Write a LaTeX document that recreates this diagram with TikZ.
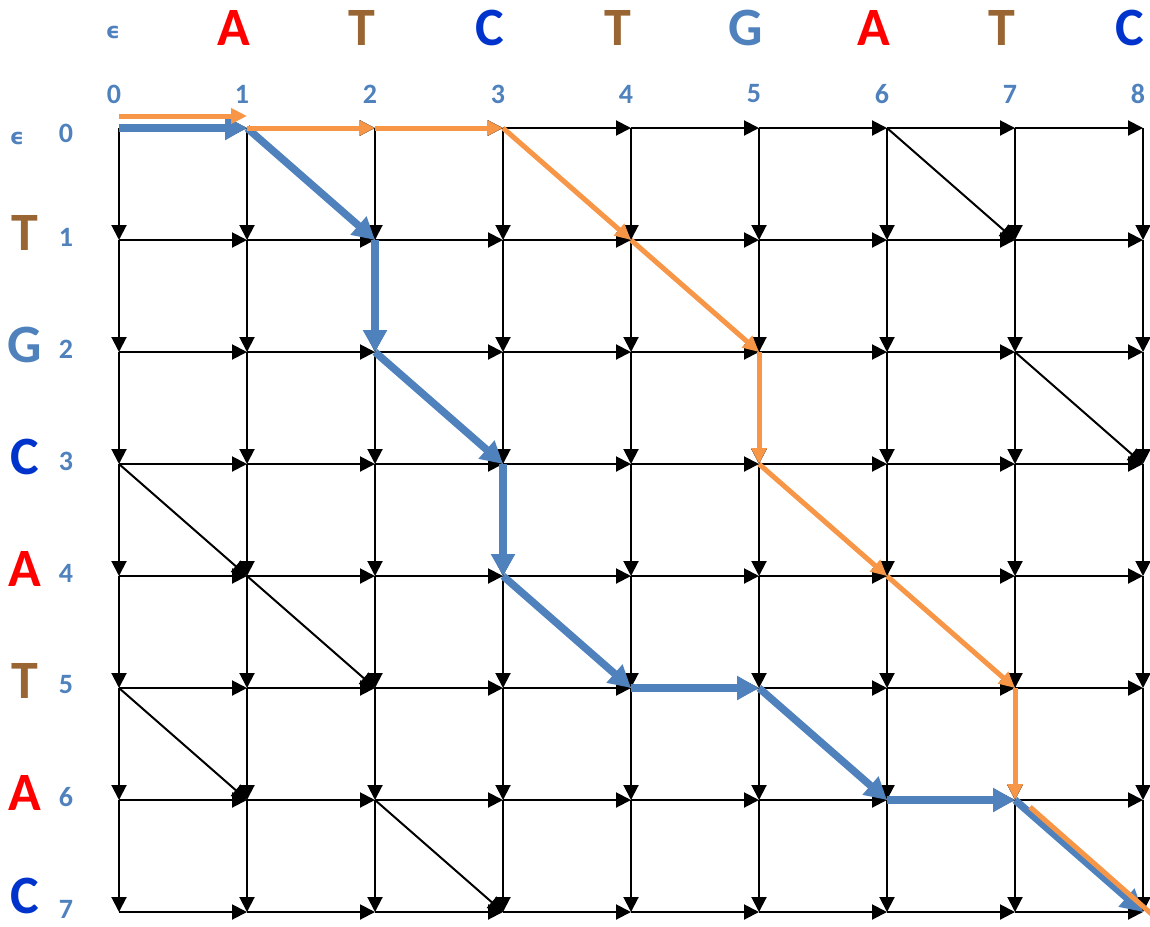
\documentclass[tikz,border=0pt]{standalone}
\usepackage{fontspec}
\setmainfont{Carlito}
\newfontfamily\epsfont{DejaVu Sans}
\usetikzlibrary{arrows.meta,calc}
\definecolor{cA}{RGB}{255,0,0}
\definecolor{cT}{RGB}{153,102,51}
\definecolor{cC}{RGB}{0,51,204}
\definecolor{cG}{RGB}{79,129,189}
\definecolor{pathblue}{RGB}{79,129,189}
\definecolor{pathorange}{RGB}{247,150,70}
\begin{document}
\begin{tikzpicture}[x=1pt,y=-1pt,
  edge/.style={line width=2pt,-{Triangle[length=15pt,width=15pt]}},
  bluepath/.style={line width=7.5pt,pathblue,-{Triangle[length=22pt,width=23pt]}},
  orangepath/.style={line width=5pt,pathorange,-{Triangle[length=16pt,width=15pt]}},
  base/.style={inner sep=0pt,font=\bfseries\fontsize{54}{54}\selectfont},
  idx/.style={inner sep=0pt,text=cG,font=\bfseries\fontsize{28}{28}\selectfont},
  eps/.style={inner sep=0pt,text=cG,font=\epsfont\bfseries\fontsize{22}{22}\selectfont}
]
\useasboundingbox (0,0) rectangle (1150,926);
% grid points
\foreach \i in {0,...,8}{\foreach \j in {0,...,7}{
  \coordinate (p\i-\j) at ({119+128*\i},{128+112*\j});}}
% horizontal edges
\foreach \i in {0,...,7}{\pgfmathtruncatemacro\nxt{\i+1}
  \foreach \j in {0,...,7}{\draw[edge] (p\i-\j) -- (p\nxt-\j);}}
% vertical edges
\foreach \i in {0,...,8}{\foreach \j in {0,...,6}{\pgfmathtruncatemacro\nyt{\j+1}
  \draw[edge] (p\i-\j) -- (p\i-\nyt);}}
% diagonal edges
\foreach \a/\b/\c/\d in {6/0/7/1,7/2/8/3,0/3/1/4,1/4/2/5,0/5/1/6,2/6/3/7}
  \draw[edge] (p\a-\b) -- (p\c-\d);
% blue path
\foreach \a/\b/\c/\d in {0/0/1/0,1/0/2/1,2/1/2/2,2/2/3/3,3/3/3/4,3/4/4/5,4/5/5/5,5/5/6/6,6/6/7/6,7/6/8/7}
  \draw[bluepath] (p\a-\b) -- (p\c-\d);
% orange path
\coordinate (ostart) at ($(p0-0)+(0,-12)$);
\coordinate (oend) at ($(p1-0)+(0,-12)$);
\draw[orangepath] (ostart) -- (oend);
\foreach \a/\b/\c/\d in {1/0/2/0,2/0/3/0,3/0/4/1,4/1/5/2,5/2/5/3,5/3/6/4,6/4/7/5,7/5/7/6}
  \draw[orangepath] (p\a-\b) -- (p\c-\d);
\coordinate (olast1) at ($(p7-6)+(15,7)$);
\coordinate (olast2) at ($(p8-7)+(12,5)$);
\draw[line width=5pt,pathorange] (olast1) -- (olast2);
% top labels
\node[eps] (topeps) at (113,32) {ϵ};
\foreach \k/\l/\c in {1/A/cA,2/T/cT,3/C/cC,4/T/cT,5/G/cG,6/A/cA,7/T/cT,8/C/cC}
  \node[base,text=\c] (top\k) at ($(p\k-0)+(-13,-100)$) {\l};
\foreach \k in {0,...,8}
  \node[idx] (colnum\k) at ($(p\k-0)+(-5,-34)$) {\k};
% left labels
\node[eps] (lefteps) at (17,138) {ϵ};
\foreach \k/\l/\c in {1/T/cT,2/G/cG,3/C/cC,4/A/cA,5/T/cT,6/A/cA}
  \node[base,text=\c] (left\k) at (25,{128+112*\k-7}) {\l};
\node[base,text=cC] (left7) at (25,896) {C};
\node[idx] (rownum0) at (66,133) {0};
\foreach \k in {1,...,7}
  \node[idx] (rownum\k) at (66,{128+112*\k-3}) {\k};
\end{tikzpicture}
\end{document}
